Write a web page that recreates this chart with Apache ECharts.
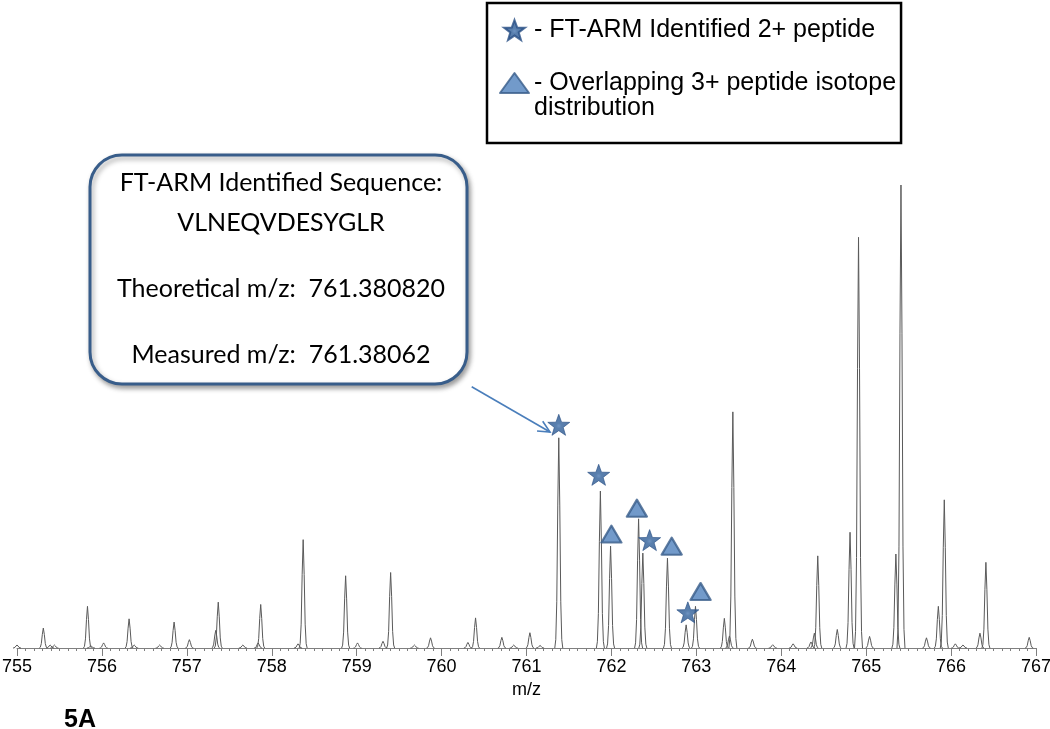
<!DOCTYPE html>
<html>
<head>
<meta charset="utf-8">
<script src="https://cdn.jsdelivr.net/npm/echarts@6/dist/echarts.min.js"></script>
<style>
html,body{margin:0;padding:0;background:#fff;}
#chart{width:1050px;height:729px;}
</style>
</head>
<body>
<div id="chart"></div>
<script>
// ---- data (relative abundance, base peak = 100) ----
const peakMz = [
  755.00, 755.31, 755.39, 755.44, 755.83, 755.87, 756.02, 756.32, 756.38, 756.68,
  756.85, 757.03, 757.34, 757.37, 757.66, 757.84, 757.87, 758.31, 758.37, 758.87,
  759.01, 759.31, 759.40, 759.68, 759.87, 760.31, 760.40, 760.71, 760.85, 761.04,
  761.16, 761.38, 761.87, 761.99, 762.32, 762.37, 762.66, 762.88, 762.99, 763.33,
  763.39, 763.43, 763.66, 763.90, 764.14, 764.35, 764.39, 764.43, 764.66, 764.81,
  764.91, 765.04, 765.35, 765.41, 765.71, 765.85, 765.92, 766.05, 766.14, 766.34,
  766.41, 766.92
];
const peakIntensity = [
  0.65, 4.3, 0.65, 0.65, 9.0, 0.45, 1.1, 6.3, 0.65, 0.65,
  5.6, 1.8, 3.8, 9.9, 0.65, 1.1, 9.4, 0.9, 23.4, 15.6,
  1.1, 1.45, 16.3, 0.65, 2.2, 1.2, 6.5, 2.3, 0.65, 3.3,
  0.55, 45.4, 33.9, 22.0, 27.9, 20.5, 19.4, 5.0, 9.0, 6.4,
  2.6, 51.0, 1.9, 0.7, 0.9, 1.3, 3.2, 19.9, 4.0, 25.0,
  88.7, 2.5, 20.3, 100, 2.2, 9.0, 32.0, 0.9, 0.65, 3.2,
  18.5, 2.3
];
// marker positions (m/z, intensity)
const starMz = [761.38, 761.85, 762.45, 762.90];
const starIntensity = [48.2, 37.4, 23.3, 7.7];
const triMz = [762.00, 762.30, 762.71, 763.05];
const triIntensity = [24.6, 30.2, 22.0, 12.2];
const xTicks = {min: 755, max: 767, interval: 1};
const starName = 'FT-ARM Identified 2+ peptide';
const triName = 'Overlapping 3+ peptide isotope distribution';
const legendText = {
  [starName]: '- FT-ARM Identified 2+ peptide',
  [triName]: '\n- Overlapping 3+ peptide isotope\ndistribution'
};
const boxLines = [
  'FT-ARM Identified Sequence:',
  'VLNEQVDESYGLR',
  'Theoretical m/z:  761.380820',
  'Measured m/z:  761.38062'
];
const panelLabel = '5A';

// ---- styles ----
const STAR = 'path://M12,0L14.9,8.1L23.41,8.29L16.6,13.5L19.05,21.71L12,16.9L4.95,21.71L7.4,13.5L0.59,8.29L9.1,8.1Z';
const peakShape = [[-4,0],[-3,0.04],[-2,0.22],[-1,0.68],[0,1],[1,0.68],[2,0.22],[3,0.04],[4,0]];

const chart = echarts.init(document.getElementById('chart'), null, {renderer:'canvas'});

const arrowStart = [471.7, 386.7];
const arrowEnd = [550, 432];
const ang = Math.atan2(arrowEnd[1]-arrowStart[1], arrowEnd[0]-arrowStart[0]);
const headLen = 13, headAng = 0.45;
const head = [
  [arrowEnd[0]-headLen*Math.cos(ang-headAng), arrowEnd[1]-headLen*Math.sin(ang-headAng)],
  arrowEnd,
  [arrowEnd[0]-headLen*Math.cos(ang+headAng), arrowEnd[1]-headLen*Math.sin(ang+headAng)]
];

const boxFont = 'Lato, "Open Sans", sans-serif';
const boxY = [182.5, 222.5, 289, 355];

const option = {
  backgroundColor: '#ffffff',
  animation: false,
  grid: {left: 17, right: 14, top: 138.7, bottom: 81, containLabel: false, outerBoundsMode: 'none'},
  xAxis: {
    type: 'value',
    min: xTicks.min, max: xTicks.max, interval: xTicks.interval,
    name: 'm/z', nameLocation: 'middle', nameGap: 29,
    nameTextStyle: {fontFamily: 'Liberation Sans', fontSize: 18, color: '#000'},
    axisLine: {show: true, onZero: false, lineStyle: {color: '#7f7f7f', width: 1}},
    axisTick: {show: true, length: 8, lineStyle: {color: '#7f7f7f'}},
    minorTick: {show: true, splitNumber: 10, length: 3, lineStyle: {color: '#7f7f7f'}},
    splitLine: {show: false},
    minorSplitLine: {show: false},
    axisLabel: {fontFamily: 'Liberation Sans', fontSize: 18, color: '#000', margin: 10,
      showMinLabel: true, showMaxLabel: true}
  },
  yAxis: {type: 'value', min: 0, max: 110, show: false},
  legend: {
    orient: 'vertical',
    left: 487, top: 3,
    padding: [14.5, 5, 22.5, 12],
    itemGap: 3,
    itemWidth: 29, itemHeight: 20,
    borderColor: '#000', borderWidth: 2.5, borderRadius: 0,
    backgroundColor: '#fff',
    selectedMode: false,
    textStyle: {fontFamily: 'Liberation Sans', fontSize: 25, color: '#000', lineHeight: 25},
    formatter: name => legendText[name],
    data: [starName, triName]
  },
  graphic: [
    {
      type: 'rect', z: 10,
      shape: {x: 90, y: 155, width: 377, height: 229, r: 32},
      style: {fill: '#fff', stroke: '#385D8A', lineWidth: 3,
        shadowBlur: 5, shadowColor: 'rgba(0,0,0,0.35)', shadowOffsetX: 2, shadowOffsetY: 3}
    },
    ...boxLines.map((t, i) => ({
      type: 'text', z: 11,
      style: {text: t, x: 281, y: boxY[i], textAlign: 'center', textVerticalAlign: 'middle',
        font: '25px ' + boxFont, fill: '#000'}
    })),
    {
      type: 'line', z: 10,
      shape: {x1: arrowStart[0], y1: arrowStart[1], x2: arrowEnd[0], y2: arrowEnd[1]},
      style: {stroke: '#4A7EBB', lineWidth: 1.6}
    },
    {
      type: 'polyline', z: 10,
      shape: {points: head},
      style: {stroke: '#4A7EBB', lineWidth: 1.6, fill: null}
    },
    {
      type: 'text', z: 11,
      style: {text: panelLabel, x: 64, y: 720, textVerticalAlign: 'middle',
        font: 'bold 25px "Liberation Sans", Arial, sans-serif', fill: '#000'}
    }
  ],
  series: [
    {
      type: 'custom',
      name: 'spectrum',
      coordinateSystem: 'cartesian2d',
      encode: {x: 0, y: 1},
      data: peakMz.map((m, i) => [m, peakIntensity[i]]),
      z: 2,
      renderItem: function (params, api) {
        const base = api.coord([api.value(0), 0]);
        const top = api.coord([api.value(0), api.value(1)]);
        const h = base[1] - top[1];
        const pts = peakShape.map(p => [base[0] + p[0], base[1] - p[1] * h]);
        return {type: 'polyline', shape: {points: pts},
          style: {stroke: '#5a5a5a', lineWidth: 1, fill: null}};
      }
    },
    {
      type: 'scatter',
      name: starName,
      symbol: STAR,
      symbolSize: [22, 21],
      z: 5,
      itemStyle: {
        color: {type: 'radial', x: 0.5, y: 0.55, r: 0.5,
          colorStops: [{offset: 0, color: '#4a78b2'}, {offset: 0.25, color: '#30609a'}, {offset: 1, color: '#2b568f'}]},
        borderColor: '#284f85', borderWidth: 0.8
      },
      data: starMz.map((m, i) => [m, starIntensity[i]])
    },
    {
      type: 'scatter',
      name: triName,
      symbol: 'triangle',
      symbolSize: [20, 17],
      z: 5,
      itemStyle: {color: '#4F81BD', borderColor: '#385D8A', borderWidth: 2.2, borderJoin: 'round'},
      data: triMz.map((m, i) => [m, triIntensity[i]])
    }
  ]
};
chart.setOption(option);
</script>
</body>
</html>
